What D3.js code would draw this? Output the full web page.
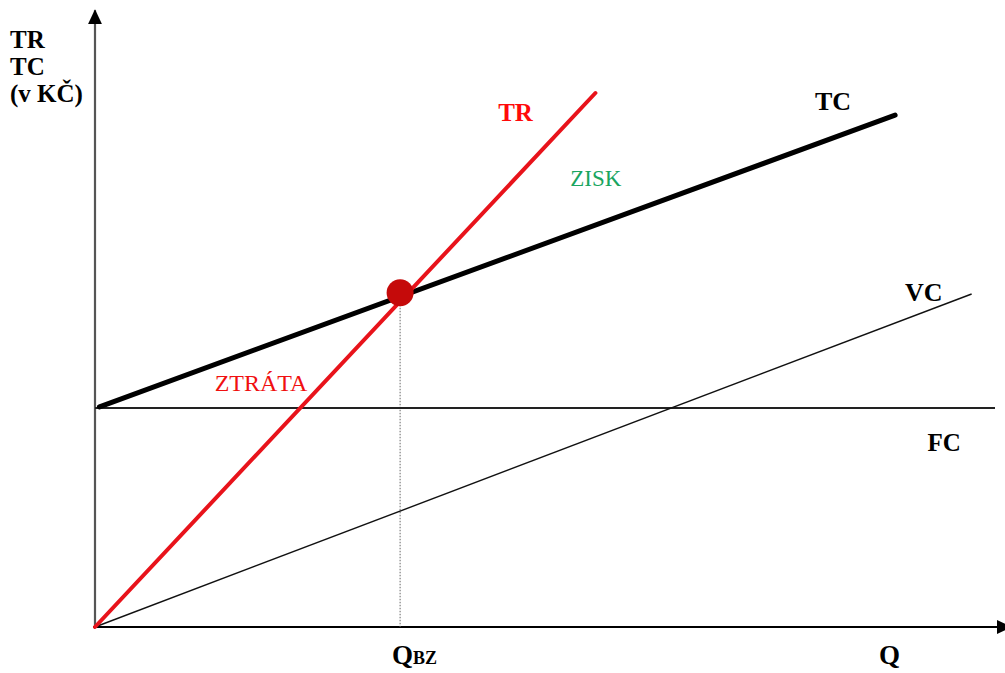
<!DOCTYPE html>
<html>
<head>
<meta charset="utf-8">
<script src="https://cdn.jsdelivr.net/npm/d3@7"></script>
<style>
  html, body { margin: 0; padding: 0; background: #fff; }
  svg { display: block; }
  text { font-family: "Liberation Serif", "Times New Roman", serif; }
</style>
</head>
<body>
<svg id="chart" width="1005" height="673"></svg>
<script>
// Break-even chart: quantity Q on the horizontal axis, money (v Kč) on the vertical one.
// Values are in abstract units (quantity 0–100, money 0–100).

const quantityMax = 101;          // length of the Q axis
const moneyMax = 102.8;           // length of the money axis
const fixedCost = 36.5;           // FC level
const fcRange = [0, 100];         // FC line runs across the whole chart
const tcPoints = [[0.5, 36.7], [88.9, 85.3]];   // TC = FC + VC
const trPoints = [[0, 0], [55.6, 89.0]];        // TR
const vcPoints = [[0, 0], [97.4, 55.5]];        // VC
const breakEven = { q: 33.9, v: 55.7 };          // Q_BZ point

const axisTitle = ["TR", "TC", "(v KČ)"];
const curveLabels = [
  { text: "TR",     q: 44.8, v: 84.3, color: "#ff0a0a", weight: "bold",   size: 25 },
  { text: "TC",     q: 80.0, v: 86.2, color: "#000",    weight: "bold",   size: 26 },
  { text: "ZISK",   q: 52.8, v: 73.5, color: "#1aa560", weight: "normal", size: 23 },
  { text: "ZTRÁTA", q: 13.3, v: 39.3, color: "#f01010", weight: "normal", size: 24 },
  { text: "VC",     q: 90.0, v: 54.3, color: "#000",    weight: "bold",   size: 26 },
  { text: "FC",     q: 92.5, v: 29.3, color: "#000",    weight: "bold",   size: 25 }
];

const svg = d3.select("#chart");
const x = d3.scaleLinear().domain([0, 100]).range([95, 995]);
const y = d3.scaleLinear().domain([0, 100]).range([627, 27]);

const line = d3.line().x(d => x(d[0])).y(d => y(d[1]));

// arrowheads
const defs = svg.append("defs");
defs.append("marker")
  .attr("id", "arrowUp").attr("viewBox", "0 0 14 15")
  .attr("refX", 7).attr("refY", 1).attr("markerWidth", 14).attr("markerHeight", 15)
  .attr("markerUnits", "userSpaceOnUse").attr("orient", "0")
  .append("path").attr("d", "M0,15 L7,0 L14,15 Z").attr("fill", "#000");
defs.append("marker")
  .attr("id", "arrowRight").attr("viewBox", "0 0 15 14")
  .attr("refX", 14).attr("refY", 7).attr("markerWidth", 15).attr("markerHeight", 14)
  .attr("markerUnits", "userSpaceOnUse").attr("orient", "0")
  .append("path").attr("d", "M0,0 L15,7 L0,14 Z").attr("fill", "#000");

// axes (no ticks, only the lines)
svg.append("line")
  .attr("x1", x(0)).attr("y1", y(0)).attr("x2", x(0)).attr("y2", y(moneyMax))
  .attr("stroke", "#555").attr("stroke-width", 2.2)
  .attr("marker-end", "url(#arrowUp)");
svg.append("line")
  .attr("x1", x(0) - 2).attr("y1", y(0)).attr("x2", x(quantityMax) + 7).attr("y2", y(0))
  .attr("stroke", "#000").attr("stroke-width", 1.8)
  .attr("marker-end", "url(#arrowRight)");

// dotted guide from the break-even point down to Q_BZ
svg.append("line")
  .attr("x1", x(breakEven.q)).attr("y1", y(breakEven.v))
  .attr("x2", x(breakEven.q)).attr("y2", y(0))
  .attr("stroke", "#666").attr("stroke-width", 1).attr("stroke-dasharray", "1.5,1.5");

// FC
svg.append("path")
  .attr("d", line(fcRange.map(q => [q, fixedCost])))
  .attr("fill", "none").attr("stroke", "#222").attr("stroke-width", 1.8);

// VC
svg.append("path")
  .attr("d", line(vcPoints))
  .attr("fill", "none").attr("stroke", "#111").attr("stroke-width", 1.4);

// TC
svg.append("path")
  .attr("d", line(tcPoints))
  .attr("fill", "none").attr("stroke", "#000").attr("stroke-width", 5)
  .attr("stroke-linecap", "round");

// TR
svg.append("path")
  .attr("d", line(trPoints))
  .attr("fill", "none").attr("stroke", "#e8131b").attr("stroke-width", 4)
  .attr("stroke-linecap", "round");

// break-even point
svg.append("circle")
  .attr("cx", x(breakEven.q)).attr("cy", y(breakEven.v)).attr("r", 13.5)
  .attr("fill", "#c50a0a");

// vertical axis title
svg.append("g").selectAll("text").data(axisTitle).join("text")
  .attr("x", 10).attr("y", (d, i) => 48 + i * 27)
  .attr("font-size", 25).attr("font-weight", "bold").attr("fill", "#000")
  .text(d => d);

// curve labels
svg.append("g").selectAll("text").data(curveLabels).join("text")
  .attr("x", d => x(d.q)).attr("y", d => y(d.v))
  .attr("font-size", d => d.size).attr("font-weight", d => d.weight)
  .attr("fill", d => d.color)
  .text(d => d.text);

// horizontal axis labels
const qbz = svg.append("text")
  .attr("x", x(breakEven.q) - 8).attr("y", 664)
  .attr("font-size", 27).attr("font-weight", "bold").attr("fill", "#000");
qbz.append("tspan").text("Q");
qbz.append("tspan").attr("font-size", 18).text("BZ");

svg.append("text")
  .attr("x", x(87.1)).attr("y", 664)
  .attr("font-size", 27).attr("font-weight", "bold").attr("fill", "#000")
  .text("Q");
</script>
</body>
</html>
